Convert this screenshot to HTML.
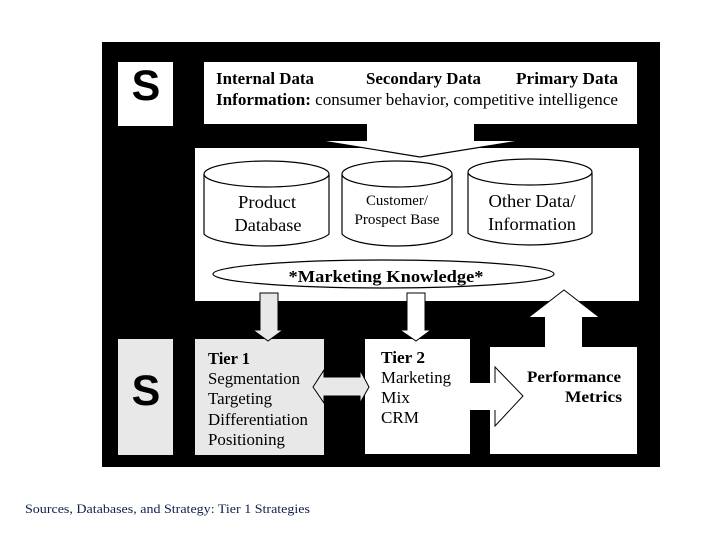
<!DOCTYPE html>
<html><head><meta charset="utf-8"><style>
html,body{margin:0;padding:0;background:#fff;width:720px;height:540px;overflow:hidden}
svg{display:block}
text{font-family:"Liberation Serif",serif;fill:#000}
.b{font-weight:bold}
</style></head><body>
<svg width="720" height="540" viewBox="0 0 720 540" xmlns="http://www.w3.org/2000/svg">
<rect x="102" y="42" width="558" height="425" fill="#000"/>
<rect x="118" y="62" width="55" height="64" fill="#fff"/>
<rect x="204" y="62" width="433" height="62" fill="#fff"/>
<rect x="195" y="148" width="444" height="153" fill="#fff"/>
<rect x="118" y="339" width="55" height="116" fill="#e8e8e8"/>
<rect x="195" y="339" width="129" height="116" fill="#e8e8e8"/>
<rect x="365" y="339" width="105" height="115" fill="#fff"/>
<rect x="490" y="347" width="147" height="107" fill="#fff"/>

<polygon points="367,124 474,124 474,141 519,141 420,157 322,141 367,141" fill="#fff"/>
<polyline points="322,141 420,157 519,141" fill="none" stroke="#000" stroke-width="1.2"/>

<g fill="#fff" stroke="#000" stroke-width="1.2">
<path d="M204,174 V234 C210,241 240,246 266,246 C292,246 322,241 329,234 V174"/>
<ellipse cx="266.500" cy="174" rx="62.500" ry="13"/>
<path d="M342,174 V234 C348,241 370,246 397,246 C424,246 446,241 452,234 V174"/>
<ellipse cx="397" cy="174" rx="55" ry="13"/>
<path d="M468,173 V233 C474,240 504,245 530,245 C556,245 586,240 592,233 V173"/>
<ellipse cx="530" cy="172" rx="62" ry="13"/>
<ellipse cx="383.500" cy="274" rx="170.500" ry="14"/>
</g>

<polygon points="260,293 278,293 278,330 283,330 268,341 253,330 260,330" fill="#e8e8e8" stroke="#000" stroke-width="1"/>
<polygon points="407,293 425,293 425,330 431,330 416,341 400,330 407,330" fill="#fff" stroke="#000" stroke-width="1"/>
<polygon points="545,347 582,347 582,317 599,317 564,290 529,317 545,317" fill="#fff"/>
<polyline points="529,317 564,290 599,317" fill="none" stroke="#000" stroke-width="1"/>
<polygon points="313,387 324,370 324,377 360,377 360,370 369,387 360,403 360,396 324,396 324,403" fill="#e8e8e8" stroke="#000" stroke-width="1"/>
<polygon points="470,383 495,383 495,367 523,396 495,426 495,410 470,410" fill="#fff"/>
<polyline points="495,383 495,367 523,396 495,426 495,410" fill="none" stroke="#000" stroke-width="1"/>

<text x="146" y="100" text-anchor="middle" class="b" font-size="43" style="font-family:'Liberation Sans',sans-serif">S</text>
<text x="146" y="405" text-anchor="middle" class="b" font-size="43" style="font-family:'Liberation Sans',sans-serif">S</text>

<text x="216" y="84" class="b" font-size="16.500" textLength="98" lengthAdjust="spacingAndGlyphs">Internal Data</text>
<text x="366" y="84" class="b" font-size="16.500" textLength="115" lengthAdjust="spacingAndGlyphs">Secondary Data</text>
<text x="516" y="84" class="b" font-size="16.500" textLength="102" lengthAdjust="spacingAndGlyphs">Primary Data</text>
<text x="216" y="105" font-size="16.500" textLength="402" lengthAdjust="spacingAndGlyphs"><tspan class="b">Information:</tspan> consumer behavior, competitive intelligence</text>

<text x="267" y="208" text-anchor="middle" font-size="18" textLength="58" lengthAdjust="spacingAndGlyphs">Product</text>
<text x="268" y="231" text-anchor="middle" font-size="18" textLength="67" lengthAdjust="spacingAndGlyphs">Database</text>
<text x="397" y="205" text-anchor="middle" font-size="14.500" textLength="62" lengthAdjust="spacingAndGlyphs">Customer/</text>
<text x="397" y="224" text-anchor="middle" font-size="14.500" textLength="85" lengthAdjust="spacingAndGlyphs">Prospect Base</text>
<text x="532" y="207" text-anchor="middle" font-size="18" textLength="87" lengthAdjust="spacingAndGlyphs">Other Data/</text>
<text x="532" y="230" text-anchor="middle" font-size="18" textLength="88" lengthAdjust="spacingAndGlyphs">Information</text>
<text x="386" y="282" text-anchor="middle" class="b" font-size="17" textLength="195" lengthAdjust="spacingAndGlyphs">*Marketing Knowledge*</text>

<text x="208" y="364" class="b" font-size="16.500" textLength="42" lengthAdjust="spacingAndGlyphs">Tier 1</text>
<text x="208" y="384" font-size="16.500" textLength="92" lengthAdjust="spacingAndGlyphs">Segmentation</text>
<text x="208" y="404" font-size="16.500" textLength="64" lengthAdjust="spacingAndGlyphs">Targeting</text>
<text x="208" y="425" font-size="16.500" textLength="100" lengthAdjust="spacingAndGlyphs">Differentiation</text>
<text x="208" y="445" font-size="16.500" textLength="77" lengthAdjust="spacingAndGlyphs">Positioning</text>

<text x="381" y="363" class="b" font-size="16.500" textLength="44" lengthAdjust="spacingAndGlyphs">Tier 2</text>
<text x="381" y="383" font-size="16.500" textLength="70" lengthAdjust="spacingAndGlyphs">Marketing</text>
<text x="381" y="403" font-size="16.500" textLength="29" lengthAdjust="spacingAndGlyphs">Mix</text>
<text x="381" y="423" font-size="16.500" textLength="38" lengthAdjust="spacingAndGlyphs">CRM</text>

<text x="527" y="382" class="b" font-size="16" textLength="94" lengthAdjust="spacingAndGlyphs">Performance</text>
<text x="565" y="402" class="b" font-size="16" textLength="57" lengthAdjust="spacingAndGlyphs">Metrics</text>

<text x="25" y="513" font-size="13" style="fill:#10204a" textLength="285" lengthAdjust="spacingAndGlyphs">Sources, Databases, and Strategy: Tier 1 Strategies</text>
</svg>
</body></html>
